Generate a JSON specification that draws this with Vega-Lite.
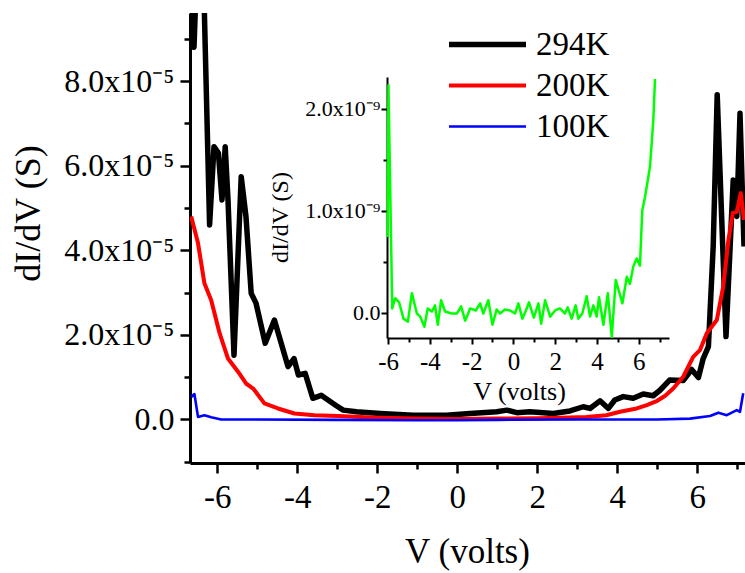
{
  "$schema": "https://vega.github.io/schema/vega-lite/v6.json",
  "width": 555,
  "height": 450,
  "autosize": {"type": "none"},
  "padding": {"left": 190, "top": 13, "right": 0, "bottom": 110},
  "background": "white",
  "config": {
    "font": "Liberation Serif",
    "view": {"stroke": null},
    "axis": {
      "grid": false,
      "domainColor": "black",
      "tickColor": "black",
      "labelColor": "black",
      "titleColor": "black",
      "labelFont": "Liberation Serif",
      "titleFont": "Liberation Serif",
      "titleFontWeight": "normal"
    },
    "legend": {"labelFont": "Liberation Serif"}
  },
  "datasets": {
    "main": [
      {"V": -6.66, "G": 10.5e-5, "T": "294K"},
      {"V": -6.58, "G": 8.8e-5, "T": "294K"},
      {"V": -6.48, "G": 11.5e-5, "T": "294K"},
      {"V": -6.40, "G": 12.0e-5, "T": "294K"},
      {"V": -6.32, "G": 9.6e-5, "T": "294K"},
      {"V": -6.19, "G": 4.60e-5, "T": "294K"},
      {"V": -6.08, "G": 6.45e-5, "T": "294K"},
      {"V": -5.97, "G": 6.30e-5, "T": "294K"},
      {"V": -5.88, "G": 5.19e-5, "T": "294K"},
      {"V": -5.80, "G": 6.45e-5, "T": "294K"},
      {"V": -5.73, "G": 5.19e-5, "T": "294K"},
      {"V": -5.58, "G": 1.52e-5, "T": "294K"},
      {"V": -5.40, "G": 5.74e-5, "T": "294K"},
      {"V": -5.28, "G": 4.79e-5, "T": "294K"},
      {"V": -5.15, "G": 2.98e-5, "T": "294K"},
      {"V": -5.03, "G": 2.75e-5, "T": "294K"},
      {"V": -4.80, "G": 1.80e-5, "T": "294K"},
      {"V": -4.57, "G": 2.35e-5, "T": "294K"},
      {"V": -4.23, "G": 1.25e-5, "T": "294K"},
      {"V": -4.08, "G": 1.44e-5, "T": "294K"},
      {"V": -3.97, "G": 1.05e-5, "T": "294K"},
      {"V": -3.80, "G": 1.09e-5, "T": "294K"},
      {"V": -3.61, "G": 0.50e-5, "T": "294K"},
      {"V": -3.40, "G": 0.57e-5, "T": "294K"},
      {"V": -3.23, "G": 0.46e-5, "T": "294K"},
      {"V": -3.03, "G": 0.33e-5, "T": "294K"},
      {"V": -2.85, "G": 0.22e-5, "T": "294K"},
      {"V": -2.52, "G": 0.18e-5, "T": "294K"},
      {"V": -1.93, "G": 0.14e-5, "T": "294K"},
      {"V": -1.10, "G": 0.10e-5, "T": "294K"},
      {"V": -0.27, "G": 0.10e-5, "T": "294K"},
      {"V": 0.32, "G": 0.14e-5, "T": "294K"},
      {"V": 0.99, "G": 0.18e-5, "T": "294K"},
      {"V": 1.24, "G": 0.22e-5, "T": "294K"},
      {"V": 1.49, "G": 0.16e-5, "T": "294K"},
      {"V": 1.82, "G": 0.18e-5, "T": "294K"},
      {"V": 2.40, "G": 0.14e-5, "T": "294K"},
      {"V": 2.82, "G": 0.20e-5, "T": "294K"},
      {"V": 3.15, "G": 0.30e-5, "T": "294K"},
      {"V": 3.32, "G": 0.26e-5, "T": "294K"},
      {"V": 3.57, "G": 0.44e-5, "T": "294K"},
      {"V": 3.78, "G": 0.26e-5, "T": "294K"},
      {"V": 3.94, "G": 0.46e-5, "T": "294K"},
      {"V": 4.15, "G": 0.54e-5, "T": "294K"},
      {"V": 4.40, "G": 0.50e-5, "T": "294K"},
      {"V": 4.65, "G": 0.60e-5, "T": "294K"},
      {"V": 4.90, "G": 0.56e-5, "T": "294K"},
      {"V": 5.07, "G": 0.69e-5, "T": "294K"},
      {"V": 5.31, "G": 0.93e-5, "T": "294K"},
      {"V": 5.65, "G": 0.92e-5, "T": "294K"},
      {"V": 5.86, "G": 1.18e-5, "T": "294K"},
      {"V": 6.03, "G": 0.99e-5, "T": "294K"},
      {"V": 6.15, "G": 1.44e-5, "T": "294K"},
      {"V": 6.28, "G": 1.72e-5, "T": "294K"},
      {"V": 6.32, "G": 2.51e-5, "T": "294K"},
      {"V": 6.40, "G": 4.09e-5, "T": "294K"},
      {"V": 6.50, "G": 7.68e-5, "T": "294K"},
      {"V": 6.72, "G": 1.96e-5, "T": "294K"},
      {"V": 6.90, "G": 5.66e-5, "T": "294K"},
      {"V": 6.99, "G": 4.80e-5, "T": "294K"},
      {"V": 7.07, "G": 7.24e-5, "T": "294K"},
      {"V": 7.17, "G": 4.09e-5, "T": "294K"},
      {"V": -6.65, "G": 4.80e-5, "T": "200K"},
      {"V": -6.48, "G": 4.17e-5, "T": "200K"},
      {"V": -6.32, "G": 3.22e-5, "T": "200K"},
      {"V": -6.15, "G": 2.82e-5, "T": "200K"},
      {"V": -5.94, "G": 2.04e-5, "T": "200K"},
      {"V": -5.73, "G": 1.44e-5, "T": "200K"},
      {"V": -5.48, "G": 1.13e-5, "T": "200K"},
      {"V": -5.28, "G": 0.85e-5, "T": "200K"},
      {"V": -5.10, "G": 0.73e-5, "T": "200K"},
      {"V": -4.82, "G": 0.38e-5, "T": "200K"},
      {"V": -4.48, "G": 0.26e-5, "T": "200K"},
      {"V": -4.07, "G": 0.14e-5, "T": "200K"},
      {"V": -3.57, "G": 0.10e-5, "T": "200K"},
      {"V": -2.98, "G": 0.08e-5, "T": "200K"},
      {"V": -2.00, "G": 0.04e-5, "T": "200K"},
      {"V": -1.00, "G": 0.02e-5, "T": "200K"},
      {"V": 0.00, "G": 0.01e-5, "T": "200K"},
      {"V": 1.00, "G": 0.02e-5, "T": "200K"},
      {"V": 2.00, "G": 0.03e-5, "T": "200K"},
      {"V": 2.60, "G": 0.04e-5, "T": "200K"},
      {"V": 3.23, "G": 0.06e-5, "T": "200K"},
      {"V": 3.73, "G": 0.10e-5, "T": "200K"},
      {"V": 4.07, "G": 0.18e-5, "T": "200K"},
      {"V": 4.49, "G": 0.26e-5, "T": "200K"},
      {"V": 4.74, "G": 0.34e-5, "T": "200K"},
      {"V": 5.00, "G": 0.44e-5, "T": "200K"},
      {"V": 5.20, "G": 0.56e-5, "T": "200K"},
      {"V": 5.40, "G": 0.73e-5, "T": "200K"},
      {"V": 5.65, "G": 1.01e-5, "T": "200K"},
      {"V": 5.90, "G": 1.48e-5, "T": "200K"},
      {"V": 6.07, "G": 1.64e-5, "T": "200K"},
      {"V": 6.24, "G": 2.04e-5, "T": "200K"},
      {"V": 6.49, "G": 2.35e-5, "T": "200K"},
      {"V": 6.65, "G": 3.14e-5, "T": "200K"},
      {"V": 6.78, "G": 4.24e-5, "T": "200K"},
      {"V": 6.89, "G": 4.88e-5, "T": "200K"},
      {"V": 6.99, "G": 4.91e-5, "T": "200K"},
      {"V": 7.09, "G": 5.35e-5, "T": "200K"},
      {"V": 7.17, "G": 4.72e-5, "T": "200K"},
      {"V": -6.65, "G": 0.53e-5, "T": "100K"},
      {"V": -6.57, "G": 0.60e-5, "T": "100K"},
      {"V": -6.48, "G": 0.06e-5, "T": "100K"},
      {"V": -6.32, "G": 0.10e-5, "T": "100K"},
      {"V": -6.15, "G": 0.05e-5, "T": "100K"},
      {"V": -5.90, "G": 0.0, "T": "100K"},
      {"V": -5.00, "G": 0.0, "T": "100K"},
      {"V": -3.00, "G": -0.01e-5, "T": "100K"},
      {"V": -1.00, "G": -0.02e-5, "T": "100K"},
      {"V": 0.00, "G": -0.02e-5, "T": "100K"},
      {"V": 1.00, "G": -0.01e-5, "T": "100K"},
      {"V": 3.00, "G": 0.0, "T": "100K"},
      {"V": 5.00, "G": 0.0, "T": "100K"},
      {"V": 5.82, "G": 0.02e-5, "T": "100K"},
      {"V": 6.32, "G": 0.08e-5, "T": "100K"},
      {"V": 6.53, "G": 0.16e-5, "T": "100K"},
      {"V": 6.74, "G": 0.10e-5, "T": "100K"},
      {"V": 6.99, "G": 0.22e-5, "T": "100K"},
      {"V": 7.07, "G": 0.18e-5, "T": "100K"},
      {"V": 7.15, "G": 0.62e-5, "T": "100K"}
    ],
    "inset": [
      {"V": -6.02, "G": 0.74e-9},
      {"V": -5.98, "G": 2.23e-9},
      {"V": -5.80, "G": 0.04e-9},
      {"V": -5.66, "G": 0.14e-9},
      {"V": -5.47, "G": 0.10e-9},
      {"V": -5.26, "G": -0.06e-9},
      {"V": -5.05, "G": -0.09e-9},
      {"V": -4.86, "G": 0.19e-9},
      {"V": -4.62, "G": -0.01e-9},
      {"V": -4.46, "G": -0.04e-9},
      {"V": -4.26, "G": -0.14e-9},
      {"V": -4.10, "G": 0.04e-9},
      {"V": -3.90, "G": 0.01e-9},
      {"V": -3.75, "G": 0.07e-9},
      {"V": -3.62, "G": -0.12e-9},
      {"V": -3.46, "G": 0.12e-9},
      {"V": -3.27, "G": 0.01e-9},
      {"V": -2.95, "G": -0.01e-9},
      {"V": -2.71, "G": -0.01e-9},
      {"V": -2.50, "G": 0.06e-9},
      {"V": -2.31, "G": -0.08e-9},
      {"V": -2.07, "G": 0.04e-9},
      {"V": -1.80, "G": 0.02e-9},
      {"V": -1.59, "G": 0.09e-9},
      {"V": -1.44, "G": -0.01e-9},
      {"V": -1.20, "G": 0.12e-9},
      {"V": -1.00, "G": -0.12e-9},
      {"V": -0.80, "G": 0.03e-9},
      {"V": -0.64, "G": -0.01e-9},
      {"V": -0.40, "G": 0.03e-9},
      {"V": -0.16, "G": 0.02e-9},
      {"V": 0.08, "G": -0.01e-9},
      {"V": 0.24, "G": 0.09e-9},
      {"V": 0.43, "G": -0.06e-9},
      {"V": 0.60, "G": 0.02e-9},
      {"V": 0.75, "G": 0.10e-9},
      {"V": 0.98, "G": -0.05e-9},
      {"V": 1.20, "G": 0.09e-9},
      {"V": 1.33, "G": -0.11e-9},
      {"V": 1.52, "G": 0.12e-9},
      {"V": 1.76, "G": -0.04e-9},
      {"V": 2.00, "G": 0.02e-9},
      {"V": 2.23, "G": 0.04e-9},
      {"V": 2.47, "G": -0.01e-9},
      {"V": 2.60, "G": 0.05e-9},
      {"V": 2.79, "G": -0.06e-9},
      {"V": 2.98, "G": 0.07e-9},
      {"V": 3.11, "G": -0.06e-9},
      {"V": 3.30, "G": -0.01e-9},
      {"V": 3.51, "G": 0.16e-9},
      {"V": 3.67, "G": -0.04e-9},
      {"V": 3.83, "G": 0.07e-9},
      {"V": 3.99, "G": -0.04e-9},
      {"V": 4.10, "G": 0.15e-9},
      {"V": 4.31, "G": -0.12e-9},
      {"V": 4.52, "G": 0.19e-9},
      {"V": 4.71, "G": -0.24e-9},
      {"V": 4.90, "G": 0.32e-9},
      {"V": 5.22, "G": 0.09e-9},
      {"V": 5.43, "G": 0.35e-9},
      {"V": 5.58, "G": 0.28e-9},
      {"V": 5.74, "G": 0.45e-9},
      {"V": 5.90, "G": 0.53e-9},
      {"V": 6.06, "G": 0.46e-9},
      {"V": 6.17, "G": 1.00e-9},
      {"V": 6.30, "G": 1.13e-9},
      {"V": 6.54, "G": 1.43e-9},
      {"V": 6.70, "G": 1.89e-9},
      {"V": 6.78, "G": 2.29e-9}
    ]
  },
  "layer": [
    {
      "data": {"name": "main"},
      "mark": {"type": "line", "clip": true, "strokeJoin": "round"},
      "encoding": {
        "x": {
          "field": "V",
          "type": "quantitative",
          "scale": {"domain": [-6.68, 7.195], "zero": false, "nice": false},
          "axis": {
            "orient": "bottom",
            "values": [-6, -5, -4, -3, -2, -1, 0, 1, 2, 3, 4, 5, 6, 7],
            "labelExpr": "abs(datum.value) % 2 == 1 ? '' : '' + datum.value",
            "labelFont": "Liberation Serif",
            "labelFontSize": 33,
            "labelPadding": 8,
            "labelFlush": false,
            "labelOverlap": false,
            "domainWidth": 3,
            "tickWidth": 2.5,
            "tickSize": {"condition": {"test": "abs(datum.value) % 2 == 1", "value": 6}, "value": 10},
            "title": "V (volts)",
            "titleFont": "Liberation Serif",
            "titleFontSize": 35,
            "titleX": 277,
            "titleY": 99,
            "titleAlign": "center",
            "titleBaseline": "alphabetic"
          }
        },
        "y": {
          "field": "G",
          "type": "quantitative",
          "scale": {"domain": [-1.03e-5, 9.61e-5], "zero": false, "nice": false},
          "axis": {
            "orient": "left",
            "values": [-1e-5, 0, 1e-5, 2e-5, 3e-5, 4e-5, 5e-5, 6e-5, 7e-5, 8e-5, 9e-5],
            "labelExpr": "datum.value == 0 ? '0.0' : (abs(round(datum.value * 1e5)) % 2 == 1 ? '' : format(datum.value * 1e5, '.1f') + 'x10⁻⁵\u2002')",
            "labelFont": "Liberation Serif",
            "labelFontSize": 32,
            "labelPadding": 6,
            "labelOverlap": false,
            "labelFlush": false,
            "domainWidth": 3,
            "tickWidth": 2.5,
            "tickSize": {"condition": {"test": "abs(round(datum.value * 1e5)) % 2 == 1", "value": 6}, "value": 10},
            "title": "dI/dV (S)",
            "titleFont": "Liberation Serif",
            "titleFontSize": 36,
            "titleAngle": -90,
            "titleX": -162,
            "titleY": 200,
            "titleAlign": "center",
            "titleBaseline": "middle"
          }
        },
        "color": {
          "field": "T",
          "type": "nominal",
          "scale": {"domain": ["294K", "200K", "100K"], "range": ["#000000", "#ff0000", "#0000ff"]},
          "legend": {
            "title": null,
            "orient": "none",
            "legendX": 256,
            "legendY": 11,
            "padding": 0,
            "rowPadding": 0,
            "symbolType": "stroke",
            "symbolSize": 5929,
            "symbolOffset": 0,
            "clipHeight": 41,
            "labelOffset": 7,
            "labelFont": "Liberation Serif",
            "labelFontSize": 33,
            "labelColor": "black"
          }
        },
        "strokeWidth": {
          "field": "T",
          "type": "nominal",
          "scale": {"domain": ["294K", "200K", "100K"], "range": [5.5, 2.6, 3]},
          "legend": {
            "title": null,
            "orient": "none",
            "legendX": 256,
            "legendY": 11,
            "padding": 0,
            "rowPadding": 0,
            "symbolType": "stroke",
            "symbolSize": 5929,
            "symbolOffset": 0,
            "clipHeight": 41,
            "labelOffset": 7,
            "labelFont": "Liberation Serif",
            "labelFontSize": 33,
            "labelColor": "black"
          }
        }
      }
    },
    {
      "data": {"name": "inset"},
      "mark": {"type": "line", "color": "#00ff00", "strokeWidth": 2.5, "strokeJoin": "round"},
      "encoding": {
        "x": {
          "field": "V",
          "type": "quantitative",
          "scale": {"domain": [-6.05, 7.45], "range": [197, 479], "zero": false, "nice": false},
          "axis": {
            "orient": "bottom",
            "offset": -125,
            "values": [-6, -5, -4, -3, -2, -1, 0, 1, 2, 3, 4, 5, 6, 7],
            "labelExpr": "abs(datum.value) % 2 == 1 ? '' : '' + datum.value",
            "labelFont": "Liberation Serif",
            "labelFontSize": 25,
            "labelPadding": 5,
            "labelFlush": false,
            "labelOverlap": false,
            "domainWidth": 2,
            "tickWidth": 2,
            "tickSize": {"condition": {"test": "abs(datum.value) % 2 == 1", "value": 4}, "value": 6},
            "title": "V (volts)",
            "titleFont": "Liberation Serif",
            "titleFontSize": 26,
            "titleX": 329,
            "titleY": 61,
            "titleAlign": "center",
            "titleBaseline": "alphabetic"
          }
        },
        "y": {
          "field": "G",
          "type": "quantitative",
          "scale": {"domain": [-0.25e-9, 2.31e-9], "range": [325, 64], "zero": false, "nice": false},
          "axis": {
            "orient": "left",
            "offset": -197,
            "values": [0, 0.5e-9, 1e-9, 1.5e-9, 2e-9],
            "labelExpr": "datum.value == 0 ? '0.0' : (abs(round(datum.value * 2e9)) % 2 == 1 ? '' : format(datum.value * 1e9, '.1f') + 'x10⁻⁹')",
            "labelFont": "Liberation Serif",
            "labelFontSize": 22,
            "labelPadding": 1,
            "labelOverlap": false,
            "labelFlush": false,
            "domainWidth": 2,
            "tickWidth": 2,
            "tickSize": {"condition": {"test": "abs(round(datum.value * 2e9)) % 2 == 1", "value": 4}, "value": 6},
            "title": "dI/dV (S)",
            "titleFont": "Liberation Serif",
            "titleFontSize": 24,
            "titleAngle": -90,
            "titleX": -107,
            "titleY": 204,
            "titleAlign": "center",
            "titleBaseline": "middle"
          }
        }
      }
    }
  ],
  "resolve": {
    "scale": {"x": "independent", "y": "independent", "color": "independent", "strokeWidth": "independent"},
    "axis": {"x": "independent", "y": "independent"}
  }
}
